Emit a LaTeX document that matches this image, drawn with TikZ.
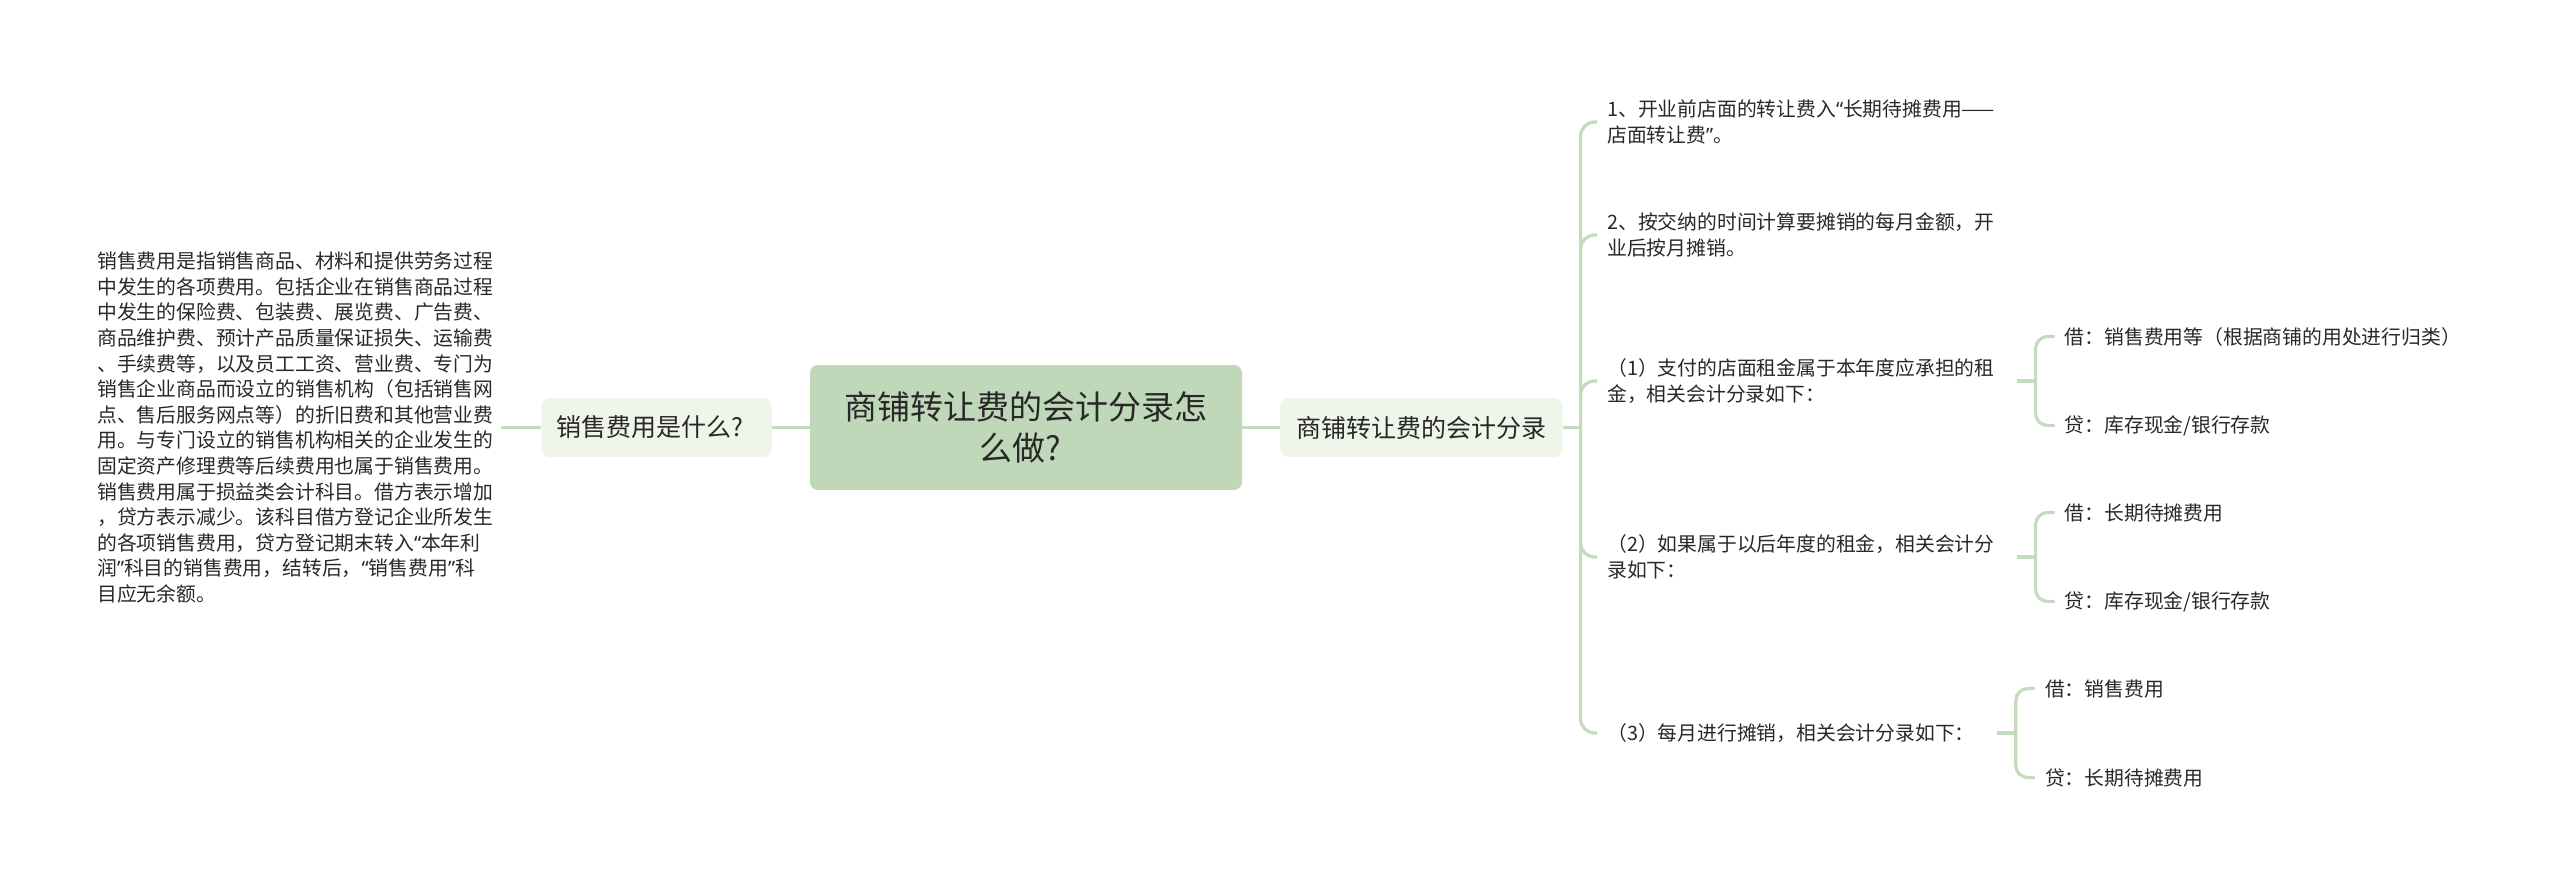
\documentclass[tikz,border=0pt]{standalone}
\usepackage{fontspec}
\setmainfont{Noto Sans CJK SC}
\newfontfamily\quotefont{Noto Sans}
\newcommand{\openq}{{\quotefont “}}
\newcommand{\closeq}{{\quotefont ”}}
\usepackage{tikz}
\usetikzlibrary{positioning}

\definecolor{rootfill}{RGB}{191,216,185}
\definecolor{topicfill}{RGB}{239,245,232}
\definecolor{linkcol}{RGB}{196,219,189}
\definecolor{inkcol}{RGB}{40,40,40}

\begin{document}
\begin{tikzpicture}[x=1pt,y=-1pt,node distance=38pt]
  \tikzstyle{root}=[rectangle,rounded corners=8pt,fill=rootfill,minimum width=432pt,minimum height=125pt,align=center,text=inkcol,font=\fontsize{33}{41}\selectfont]
  \tikzstyle{topic}=[rectangle,rounded corners=8pt,fill=topicfill,minimum height=59pt,text=inkcol,font=\fontsize{25}{30}\selectfont]
  \tikzstyle{leaf}=[anchor=west,inner sep=0pt,align=left,text=inkcol,font=\fontsize{19.8}{25.6}\selectfont]
  \tikzstyle{link}=[draw=linkcol,line width=3.2pt]

  \useasboundingbox (0,0) rectangle (2560,887);

  \node[root] (root) at (1026,427.5) {商铺转让费的会计分录怎\\么做?\kern12pt};
  \node[topic,minimum width=230pt] (what) [left=of root] {销售费用是什么?\kern13pt};
  \node[topic,minimum width=282pt] (entry) [right=of root] {商铺转让费的会计分录};

  \node[leaf] (desc) at (97,427.5) {销售费用是指销售商品、材料和提供劳务过程\\
    中发生的各项费用。包括企业在销售商品过程\\
    中发生的保险费、包装费、展览费、广告费、\\
    商品维护费、预计产品质量保证损失、运输费\\
    、手续费等，以及员工工资、营业费、专门为\\
    销售企业商品而设立的销售机构（包括销售网\\
    点、售后服务网点等）的折旧费和其他营业费\\
    用。与专门设立的销售机构相关的企业发生的\\
    固定资产修理费等后续费用也属于销售费用。\\
    销售费用属于损益类会计科目。借方表示增加\\
    ，贷方表示减少。该科目借方登记企业所发生\\
    的各项销售费用，贷方登记期末转入\openq 本年利\\
    润\closeq 科目的销售费用，结转后，\openq 销售费用\closeq 科\\
    目应无余额。};

  \node[leaf] (c1) at (1607,122) {1、开业前店面的转让费入\openq 长期待摊费用——\\店面转让费\closeq 。};
  \node[leaf] (c2) at (1607,235) {2、按交纳的时间计算要摊销的每月金额，开\\业后按月摊销。};
  \node[leaf] (c3) at (1607,381) {（1）支付的店面租金属于本年度应承担的租\\金，相关会计分录如下：};
  \node[leaf] (c4) at (1607,557) {（2）如果属于以后年度的租金，相关会计分\\录如下：};
  \node[leaf] (c5) at (1607,733) {（3）每月进行摊销，相关会计分录如下：};

  % debit / credit lines
  \foreach \c in {c3,c4,c5}
    \coordinate (fork-\c) at ([xshift=41pt]\c.east);
  \node[leaf] (dr-c3) at ([xshift=29pt,yshift=44.5pt]fork-c3) {借：销售费用等（根据商铺的用处进行归类）};
  \node[leaf] (cr-c3) at ([xshift=29pt,yshift=-44.5pt]fork-c3) {贷：库存现金/银行存款};
  \node[leaf] (dr-c4) at ([xshift=29pt,yshift=44.5pt]fork-c4) {借：长期待摊费用};
  \node[leaf] (cr-c4) at ([xshift=29pt,yshift=-44.5pt]fork-c4) {贷：库存现金/银行存款};
  \node[leaf] (dr-c5) at ([xshift=29pt,yshift=44.5pt]fork-c5) {借：销售费用};
  \node[leaf] (cr-c5) at ([xshift=29pt,yshift=-44.5pt]fork-c5) {贷：长期待摊费用};

  % connectors
  \draw[link] ([xshift=8pt]desc.east) -- (what.west);
  \draw[link] (what.east) -- (root.west);
  \draw[link] (root.east) -- (entry.west);
  \coordinate (fork) at ([xshift=18pt]entry.east);
  \draw[link] (entry.east) -- (fork);
  \foreach \c in {c1,c2,c3,c4,c5}
    \draw[link,rounded corners=14pt] (fork) |- ([xshift=-10pt]\c.west);
  \foreach \c in {c3,c4,c5} {
    \draw[link] ([xshift=22pt]\c.east) -- (fork-\c);
    \draw[link,rounded corners=12pt] (fork-\c) |- ([xshift=-10pt]dr-\c.west);
    \draw[link,rounded corners=12pt] (fork-\c) |- ([xshift=-10pt]cr-\c.west);
  }
\end{tikzpicture}
\end{document}
